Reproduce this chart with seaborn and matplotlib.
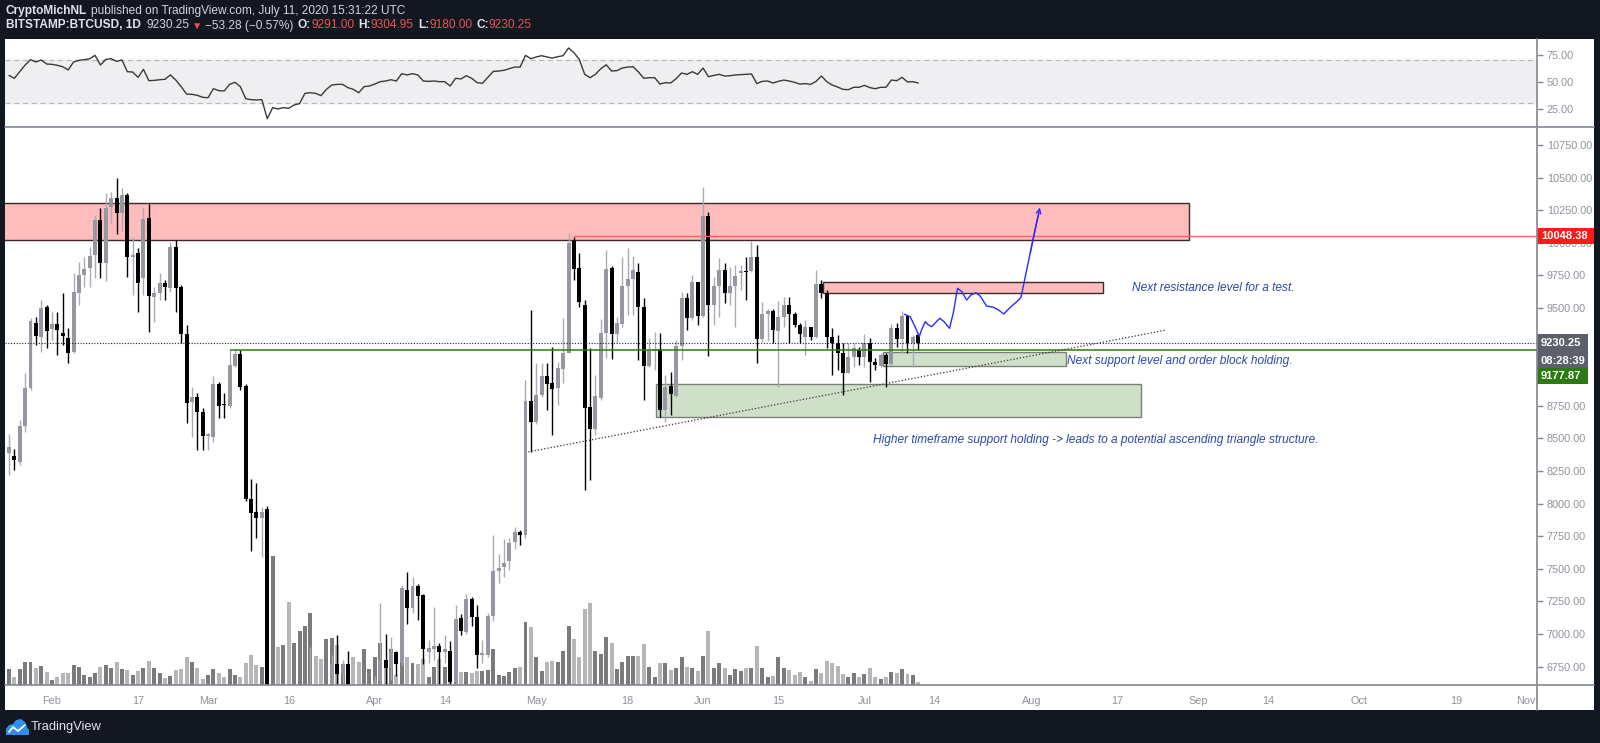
import numpy as np
import pandas as pd
import matplotlib
matplotlib.use("Agg")
import matplotlib.pyplot as plt
import matplotlib.transforms as mtransforms
from matplotlib.patches import Rectangle, Polygon
from matplotlib.lines import Line2D
import seaborn as sns

sns.set_theme(style="white")
plt.rcParams["font.family"] = ["Liberation Sans", "DejaVu Sans"]

START = pd.Timestamp("2020-01-24")   # first daily candle

# ---- BITSTAMP:BTCUSD daily candles, Jan 24 .. Jul 11 2020
OPEN = [8385, 8368, 8317, 8598, 8889, 9383, 9280, 9510, 9337, 9378,
        9311, 9273, 9165, 9613, 9753, 9804, 9907, 10175, 9848, 10277,
        10341, 10226, 10367, 9894, 9919, 9728, 10188, 9587, 9613, 9689,
        9651, 9965, 9664, 9301, 8782, 8815, 8705, 8520, 8514, 8917,
        8760, 8749, 9055, 9147, 8902, 8033, 7938, 7887, 7956, 4830,
        5620, 5170, 5360, 5020, 5360, 5400, 6180, 6200, 6190, 5820,
        6490, 6767, 6690, 6767, 6370, 6250, 5880, 6400, 6420, 6640,
        6800, 6740, 6860, 6775, 7337, 7202, 7370, 7299, 6865, 6882,
        6908, 6865, 6870, 6630, 7120, 7018, 7266, 7128, 6839, 6839,
        7138, 7486, 7511, 7562, 7708, 7785, 7760, 8789, 8623, 8833,
        8981, 8922, 8884, 9030, 9157, 10014, 9804, 9523, 8743, 8569,
        8807, 9311, 9807, 9301, 9377, 9669, 9720, 9773, 9510, 9058,
        9173, 9183, 8718, 8902, 8828, 9208, 9579, 9421, 9702, 9438,
        10205, 9523, 9669, 9791, 9612, 9669, 9771, 9786, 9786, 9894,
        9263, 9454, 9475, 9326, 9429, 9523, 9454, 9370, 9280, 9352,
        9280, 9682, 9618, 9280, 9234, 9158, 9004, 9122, 9178, 9127,
        9229, 9089, 9056, 9140, 9071, 9344, 9260, 9439, 9229, 9291]
HIGH = [8534, 8420, 8641, 8999, 9420, 9434, 9561, 9523, 9472, 9472,
        9613, 9344, 9766, 9855, 9894, 9970, 10213, 10264, 10379, 10392,
        10494, 10418, 10380, 10047, 9958, 10277, 10298, 9664, 9766, 9715,
        10009, 10022, 9677, 9370, 8897, 8846, 8731, 8540, 8979, 8935,
        8846, 9178, 9183, 9178, 8920, 8188, 8155, 7976, 7980, 5950,
        5660, 5940, 5370, 5550, 5430, 6400, 6900, 6460, 6420, 6590,
        6840, 6990, 6800, 6872, 6370, 6260, 6600, 6520, 6680, 7237,
        7000, 6980, 6870, 7376, 7473, 7440, 7380, 7310, 6955, 7205,
        6930, 6990, 6950, 7222, 7150, 7304, 7285, 7220, 6955, 7160,
        7759, 7614, 7726, 7733, 7823, 7800, 8950, 9484, 9075, 9080,
        9075, 9203, 9088, 9421, 10072, 10048, 9919, 9561, 9190, 8986,
        9413, 9945, 9825, 9433, 9893, 9957, 9899, 9842, 9574, 9267,
        9318, 9311, 8986, 9012, 9254, 9625, 9612, 9753, 9702, 10430,
        10238, 9740, 9881, 9842, 9817, 9830, 9830, 9893, 10016, 9983,
        9549, 9495, 9490, 9550, 9587, 9582, 9472, 9383, 9408, 9357,
        9792, 9715, 9638, 9344, 9293, 9229, 9229, 9234, 9204, 9298,
        9267, 9114, 9158, 9153, 9378, 9388, 9480, 9446, 9293, 9305]
LOW = [8220, 8258, 8296, 8552, 8870, 9216, 9165, 9196, 9255, 9140,
       9216, 9076, 9153, 9523, 9664, 9659, 9728, 9728, 9710, 10149,
       10068, 10093, 9740, 9600, 9472, 9600, 9314, 9395, 9562, 9562,
       9625, 9472, 9229, 8616, 8514, 8412, 8412, 8412, 8476, 8654,
       8654, 8731, 9045, 8872, 8020, 7639, 7733, 7593, 4450, 3850,
       5090, 5100, 4450, 4960, 5090, 5260, 5680, 5860, 5760, 5700,
       6400, 6470, 6540, 6270, 6020, 5870, 5860, 6330, 6150, 6590,
       6600, 6650, 6680, 6760, 7074, 7160, 7108, 6770, 6775, 6800,
       6560, 6780, 6600, 6480, 6990, 7000, 7060, 6740, 6775, 6820,
       7100, 7390, 7434, 7490, 7650, 7680, 7740, 8398, 8610, 8820,
       8718, 8526, 8756, 8922, 9152, 9715, 9510, 8104, 8181, 8526,
       8795, 9114, 9106, 9229, 9357, 9446, 9446, 9101, 8794, 9050,
       9025, 8667, 8628, 8679, 8820, 9101, 9331, 9408, 9369, 9433,
       9134, 9370, 9433, 9536, 9523, 9357, 9638, 9561, 9778, 9076,
       9242, 9250, 9230, 8897, 9357, 9229, 9357, 9229, 9140, 9255,
       9267, 9574, 9191, 8986, 9025, 8833, 8999, 9050, 9063, 9050,
       8935, 9025, 9050, 8897, 9063, 9204, 9153, 9153, 9050, 9180]
CLOSE = [8432, 8335, 8595, 8889, 9400, 9288, 9498, 9324, 9378, 9331,
         9285, 9158, 9620, 9753, 9797, 9899, 10175, 9848, 10264, 10341,
         10226, 10367, 9894, 9907, 9689, 10180, 9592, 9613, 9689, 9664,
         9965, 9651, 9301, 8774, 8815, 8700, 8519, 8525, 8917, 8749,
         8757, 9063, 9147, 8892, 8033, 7930, 7887, 7933, 4830, 5620,
         5170, 5360, 5020, 5360, 5400, 6180, 6200, 6190, 5820, 6490,
         6770, 6690, 6760, 6370, 6250, 5880, 6400, 6420, 6640, 6800,
         6740, 6860, 6770, 7350, 7202, 7370, 7294, 6882, 6890, 6908,
         6865, 6882, 6630, 7112, 7025, 7266, 7128, 6839, 6857, 7138,
         7486, 7504, 7547, 7695, 7785, 7760, 8789, 8623, 8833, 8981,
         8915, 8879, 9037, 9152, 9996, 9799, 9543, 8730, 8569, 8825,
         9311, 9796, 9301, 9382, 9669, 9720, 9791, 9510, 9058, 9178,
         9185, 8718, 8897, 8840, 9208, 9574, 9421, 9702, 9438, 10205,
         9523, 9669, 9791, 9617, 9669, 9745, 9786, 9776, 9893, 9263,
         9454, 9475, 9330, 9429, 9523, 9454, 9370, 9301, 9352, 9280,
         9682, 9618, 9280, 9234, 9158, 9004, 9122, 9191, 9127, 9229,
         9089, 9063, 9140, 9071, 9344, 9260, 9439, 9229, 9280, 9230.25]
# volume (relative units, as drawn in the volume overlay)
VOLUME = [15.7, 7.7, 15.7, 23.3, 23.3, 16.7, 19, 13.3, 5, 7.7,
          12.3, 12.3, 20, 18.3, 10, 8.3, 12.3, 18.3, 20, 16.7,
          22.7, 15.7, 15, 10, 14.3, 16.7, 24.3, 16.7, 11.7, 6.7,
          9, 15, 15.7, 27.7, 23, 16.7, 6, 10, 16, 12.3,
          8.3, 15.7, 10, 7.7, 22.3, 30, 20, 18.3, 95, 129,
          37.7, 40, 83.3, 41.7, 54, 59.3, 71.7, 29, 26, 46,
          46.7, 40, 20.7, 20, 27.7, 22.7, 35.7, 15.7, 27.7, 41.7,
          25, 35.7, 10, 21.7, 28.3, 21.7, 20.7, 26, 8.3, 18.3,
          26, 18.3, 18, 21, 12.7, 13.3, 11.7, 14.3, 14.3, 15,
          35.7, 10, 9.3, 12.7, 16.7, 18.3, 62.7, 57.7, 27.7, 14,
          22.7, 24, 23.3, 34.3, 59.3, 46, 27.7, 75.7, 81.7, 34,
          31, 47.7, 41.7, 15.7, 23.3, 29, 29, 29, 41, 18.3,
          8.3, 21.7, 21.7, 15, 17.3, 27.7, 17.7, 16.7, 14, 29,
          54, 17.3, 21.7, 17.3, 10, 16.3, 14, 17.3, 17.3, 39,
          17.3, 7.7, 8.7, 28.3, 17.3, 15, 10, 13, 7.7, 4,
          16.3, 11.7, 24.3, 21.7, 19, 11, 8.3, 11.7, 7.7, 11,
          17.3, 8.3, 6, 7.7, 13, 11.7, 15.7, 11, 10, 3]
RSI = [55.8, 53.1, 59.2, 65.4, 70.3, 68.2, 70.0, 66.3, 66.0, 65.1,
       63.8, 60.8, 68.2, 69.7, 70.3, 71.2, 74.3, 65.4, 70.6, 71.2,
       68.8, 70.0, 59.2, 58.9, 54.0, 61.4, 50.9, 51.2, 51.8, 52.2,
       56.2, 51.5, 45.4, 38.6, 38.3, 37.4, 35.5, 35.2, 43.5, 41.7,
       41.4, 47.5, 49.4, 45.4, 34.3, 33.4, 33.1, 33.4, 15.8, 26.0,
       24.8, 26.0, 25.4, 28.5, 29.7, 39.2, 39.8, 39.2, 37.1, 42.9,
       46.9, 47.5, 47.5, 44.5, 42.9, 39.8, 45.4, 46.0, 47.8, 50.0,
       50.6, 51.8, 50.6, 57.4, 56.2, 57.4, 56.2, 50.6, 50.3, 50.6,
       50.0, 50.0, 46.0, 53.1, 52.5, 55.5, 53.1, 49.1, 48.5, 54.0,
       59.5, 59.8, 60.5, 62.0, 63.5, 63.5, 74.3, 71.2, 72.8, 74.0,
       72.8, 71.8, 73.1, 74.0, 81.1, 76.8, 70.6, 56.8, 53.7, 56.8,
       62.0, 65.6, 59.8, 60.2, 62.6, 63.5, 63.8, 58.9, 53.1, 53.7,
       53.7, 47.8, 49.1, 48.8, 52.8, 58.0, 56.8, 59.2, 56.8, 62.6,
       54.6, 55.8, 56.8, 55.2, 55.5, 56.2, 56.5, 56.8, 57.1, 48.2,
       50.3, 50.6, 48.8, 50.3, 51.5, 50.6, 49.4, 47.8, 48.2, 47.5,
       50.3, 55.2, 50.0, 46.9, 45.1, 42.9, 42.6, 44.8, 44.8, 46.6,
       44.5, 43.5, 44.8, 44.8, 51.5, 50.9, 54.0, 49.7, 50.0, 48.8]

TICK_DATES = ["2020-02-01", "2020-02-17", "2020-03-01", "2020-03-16", "2020-04-01",
              "2020-04-14", "2020-05-01", "2020-05-18", "2020-06-01", "2020-06-15",
              "2020-07-01", "2020-07-14", "2020-08-01", "2020-08-17", "2020-09-01",
              "2020-09-14", "2020-10-01", "2020-10-19", "2020-11-01"]
TICK_LABELS = ["Feb", "17", "Mar", "16", "Apr", "14", "May", "18", "Jun", "15",
               "Jul", "14", "Aug", "17", "Sep", "14", "Oct", "19", "Nov"]
PRICE_TICKS = list(range(6750, 10751, 250))
HIDDEN_TICKS = [9000, 9250]          # covered by the price / countdown labels
RSI_TICKS = [25, 50, 75]

# drawings on the chart (dates / prices)
RED_ZONES = [("2020-01-10", "2020-08-30 08:00", 10020, 10305),
             ("2020-06-23 08:00", "2020-08-14 08:00", 9613, 9702)]
GREEN_ZONES = [("2020-05-23 08:00", "2020-08-21 10:00", 8664, 8917),
               ("2020-07-04 12:00", "2020-08-07 12:00", 9055, 9165)]
TREND_DATES = ["2020-04-29 12:00", "2020-08-26"]
TREND_PRICES = [8396, 9330]
RESIST_LEVEL, RESIST_FROM = 10048.38, "2020-05-08"
SUPPORT_LEVEL, SUPPORT_FROM = 9177.87, "2020-03-05"
LAST_PRICE = 9230.25
PATH_DAYS = [166.4, 167.5, 168.4, 169.2, 169.6, 170.3, 170.9, 171.5, 172.1, 173.0,
             173.8, 174.8, 175.5, 176.3, 177.1, 178.0, 178.8, 179.7, 180.5, 181.7,
             183.0, 183.9, 184.9, 186.1, 187.3, 188.1, 188.7, 189.8, 190.7, 191.4]
PATH_PRICES = [9452, 9433, 9357, 9280, 9331, 9395, 9370, 9357, 9383, 9421,
               9395, 9344, 9459, 9651, 9625, 9561, 9600, 9617, 9592, 9515,
               9505, 9485, 9454, 9505, 9548, 9582, 9702, 9920, 10098, 10225]
NOTES = [("Next resistance level for a test.", "2020-08-19 18:00", 9653),
         ("Next support level and order block holding.", "2020-08-07 16:00", 9094),
         ("Higher timeframe support holding -> leads to a potential ascending triangle structure.",
          "2020-07-02 14:00", 8488)]

BG = "#131722"
AXIS = "#858892"
LABEL = "#8f929b"
NOTE_BLUE = "#2a48a8"
W, H = 1600, 743


def day(d):
    return (pd.Timestamp(d) - START) / pd.Timedelta(days=1)


def fx(x):
    return x / W


def fy(y):
    return 1 - y / H


o, hi, lo, c = (np.asarray(a, float) for a in (OPEN, HIGH, LOW, CLOSE))
days = np.arange(len(c))
up = c >= o

fig = plt.figure(figsize=(16, 7.43), dpi=100, facecolor=BG)
fig.add_artist(Rectangle((fx(5), fy(710)), fx(1594) - fx(5), fy(38.7) - fy(710),
                         transform=fig.transFigure, fc="white", ec="none", zorder=-5))

main_rect = [fx(5), fy(685), fx(1537) - fx(5), fy(126.7) - fy(685)]
ax_vol = fig.add_axes(main_rect, zorder=1)
ax = fig.add_axes(main_rect, zorder=2)
ax_rsi = fig.add_axes([fx(5), fy(126.7), fx(1537) - fx(5), fy(38.7) - fy(126.7)], zorder=2)
for a in (ax_vol, ax, ax_rsi):
    a.patch.set_visible(False)
    for s in a.spines.values():
        s.set_visible(False)

XLIM = (-0.74, 284.0)

# volume overlay
vol_df = pd.DataFrame({"day": days, "volume": VOLUME, "dir": np.where(up, "up", "down")})
sns.barplot(data=vol_df, x="day", y="volume", hue="dir", native_scale=True, dodge=False,
            palette={"up": "#7b7b7b", "down": "#b6b6b8"}, width=0.74, errorbar=None,
            legend=False, saturation=1, linewidth=0, ax=ax_vol)
ax_vol.set_xlim(XLIM)
ax_vol.set_ylim(0, 558)
ax_vol.axis("off")

# zones
for d0, d1, p0, p1 in RED_ZONES:
    ax.add_patch(Rectangle((day(d0), p0), day(d1) - day(d0), p1 - p0,
                           fc="#ffbcbc", ec="#3c2a2a", lw=1, zorder=1))
for d0, d1, p0, p1 in GREEN_ZONES:
    ax.add_patch(Rectangle((day(d0), p0), day(d1) - day(d0), p1 - p0,
                           fc="#cfe0c9", ec="#7a7f7a", lw=1, zorder=1))

# candles
wick_col = np.where(up, "#a9acb4", "#000000")
body_col = np.where(up, "#9598a1", "#000000")
ax.vlines(days, lo, hi, colors=wick_col, lw=1, zorder=3)
ax.bar(days, np.maximum(np.abs(c - o), 10), bottom=np.minimum(o, c), width=0.74,
       color=body_col, linewidth=0, zorder=4)

# levels and drawings
ax.hlines(LAST_PRICE, XLIM[0], XLIM[1], colors="#222222", lw=0.8, linestyles=(0, (1, 1.5)), zorder=5)
ax.hlines(RESIST_LEVEL, day(RESIST_FROM), XLIM[1], colors="#ff6464", lw=1, zorder=5)
ax.hlines(SUPPORT_LEVEL, day(SUPPORT_FROM), XLIM[1], colors="#2f7d10", lw=1.1, zorder=5)
ax.plot([day(d) for d in TREND_DATES], TREND_PRICES, color="#333333", lw=0.9,
        ls=(0, (1, 1.6)), zorder=5)
ax.plot(PATH_DAYS, PATH_PRICES, color="#2b2bff", lw=1, zorder=6)
ax.annotate("", xy=(PATH_DAYS[-1] + 0.2, PATH_PRICES[-1] + 45), xytext=(PATH_DAYS[-3], PATH_PRICES[-3]),
            arrowprops=dict(arrowstyle="->", color="#2b2bff", lw=1, shrinkA=0, shrinkB=0,
                            mutation_scale=8), zorder=6)
for txt, d, p in NOTES:
    ax.text(day(d), p, txt, color=NOTE_BLUE, fontsize=8.6, style="italic", va="center", ha="left", zorder=6)

ax.set_xlim(XLIM)
ax.set_ylim(6609, 10890)
ax.set_xticks([day(d) for d in TICK_DATES], TICK_LABELS)
ax.yaxis.tick_right()
ax.set_yticks(PRICE_TICKS, ["" if p in HIDDEN_TICKS else f"{p:.2f}" for p in PRICE_TICKS])
ax.tick_params(axis="x", length=3, width=1, color=AXIS, labelcolor=LABEL, labelsize=7.8, pad=5)
ax.tick_params(axis="y", length=4, width=1, color=AXIS, labelcolor=LABEL, labelsize=7.8, pad=3)
ax.grid(False)

# price labels on the scale
trans = mtransforms.blended_transform_factory(ax.transAxes, ax.transData)
px_per_usd = (685 - 126.7) / (10890 - 6609)
axw = 1537 - 5


def scale_box(center, text, color, width_px, height_px=17):
    half = height_px / 2 / px_per_usd
    ax.add_patch(Rectangle((1.0, center - half), width_px / axw, 2 * half, transform=trans,
                           fc=color, ec="none", clip_on=False, zorder=10))
    ax.text(1.0 + 4 / axw, center, text, transform=trans, color="white", fontsize=8,
            fontweight="bold", va="center", ha="left", clip_on=False, zorder=11)


scale_box(RESIST_LEVEL, f"{RESIST_LEVEL:.2f}", "#ff1a1a", 57, 16)
scale_box(LAST_PRICE, f"{LAST_PRICE:.2f}", "#5d606b", 51, 18)
scale_box(LAST_PRICE - 18 / px_per_usd, "08:28:39", "#5d606b", 51, 18)
scale_box(LAST_PRICE - 33 / px_per_usd, f"{SUPPORT_LEVEL:.2f}", "#2e7a12", 51, 16)

# RSI panel
ax_rsi.axhspan(30, 70, color="#efeff2", zorder=0)
for lvl in (30, 70):
    ax_rsi.axhline(lvl, color="#b9b9bd", lw=0.9, ls=(0, (4, 3)), zorder=1)
sns.lineplot(x=days, y=RSI, ax=ax_rsi, color="#3a3a3a", linewidth=1)
ax_rsi.set_xlim(XLIM)
ax_rsi.set_ylim(8.4, 89.7)
ax_rsi.set_xticks([])
ax_rsi.yaxis.tick_right()
ax_rsi.set_yticks(RSI_TICKS, [f"{v:.2f}" for v in RSI_TICKS])
ax_rsi.tick_params(axis="y", length=4, width=1, color=AXIS, labelcolor=LABEL, labelsize=7.8, pad=3)
ax_rsi.set_xlabel("")
ax_rsi.set_ylabel("")
ax_rsi.grid(False)

# frame lines
fig.add_artist(Line2D([fx(1537), fx(1537)], [fy(38.7), fy(710)], color=AXIS, lw=1.2, transform=fig.transFigure, zorder=20))
fig.add_artist(Line2D([fx(5), fx(1594)], [fy(126.7), fy(126.7)], color=AXIS, lw=1.2, transform=fig.transFigure, zorder=20))
fig.add_artist(Line2D([fx(5), fx(1594)], [fy(685), fy(685)], color=AXIS, lw=1.2, transform=fig.transFigure, zorder=20))


# header (pieces chained one after another)
def chain(y, pieces):
    prev = None
    for txt, col, wt, gap, size in pieces:
        if prev is None:
            prev = fig.text(fx(6), fy(y), txt, color=col, fontsize=size, fontweight=wt, va="center")
        else:
            prev = ax_rsi.annotate(txt, xy=(1, 0.5), xycoords=prev, xytext=(gap, 0),
                                   textcoords="offset points", va="center", ha="left",
                                   color=col, fontsize=size, fontweight=wt, annotation_clip=False)


chain(11, [("CryptoMichNL", "#e0e3eb", "bold", 0, 8.6),
           ("published on TradingView.com, July 11, 2020 15:31:22 UTC", "#d1d4dc", "normal", 2.5, 8.6)])
chain(25.5, [("BITSTAMP:BTCUSD, 1D", "#e0e3eb", "bold", 0, 8.6),
             ("9230.25", "#d1d4dc", "normal", 4, 8.6),
             ("\u25bc", "#ef5350", "normal", 2, 7.5),
             ("\u221253.28 (\u22120.57%)", "#d1d4dc", "normal", 2, 8.6),
             ("O:", "#e0e3eb", "bold", 3, 8.6), ("9291.00", "#ef5350", "normal", 0, 8.6),
             ("H:", "#e0e3eb", "bold", 3, 8.6), ("9304.95", "#ef5350", "normal", 0, 8.6),
             ("L:", "#e0e3eb", "bold", 3, 8.6), ("9180.00", "#ef5350", "normal", 0, 8.6),
             ("C:", "#e0e3eb", "bold", 3, 8.6), ("9230.25", "#ef5350", "normal", 0, 8.6)])

# footer logo
fig.add_artist(Polygon([(fx(x), fy(y)) for x, y in
                        [(6, 735), (6, 729), (9, 725), (13, 724), (16, 720), (21, 719),
                         (25, 722), (27, 727), (29, 730), (29, 735)]],
                       closed=True, fc="#2e8ff0", ec="none", transform=fig.transFigure))
fig.add_artist(Line2D([fx(x) for x in (9, 13, 18, 25)], [fy(y) for y in (732, 727, 731, 725)],
                      color="white", lw=1.3, transform=fig.transFigure))
fig.text(fx(31), fy(727), "TradingView", color="#e0e3eb", fontsize=9.3, va="center")

fig.savefig("out.png", dpi=100, facecolor=BG)
